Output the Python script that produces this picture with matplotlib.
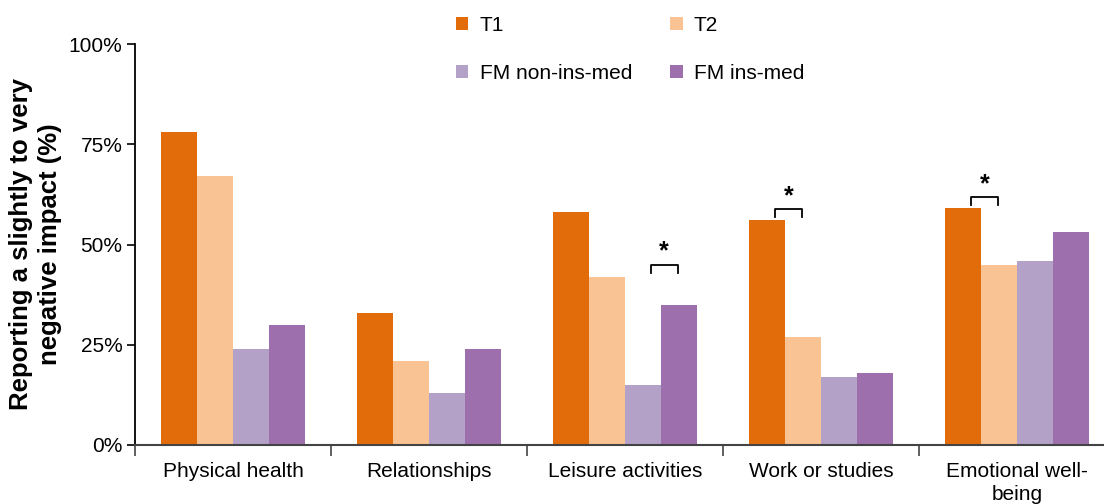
import matplotlib
matplotlib.use("Agg")
import matplotlib.pyplot as plt
import numpy as np

plt.rcParams['font.family'] = ['Liberation Sans', 'DejaVu Sans']

categories = ["Physical health", "Relationships", "Leisure activities", "Work or studies", "Emotional well-\nbeing"]
series_names = ["T1", "T2", "FM non-ins-med", "FM ins-med"]
t1 = [78, 33, 58, 56, 59]
t2 = [67, 21, 42, 27, 45]
fm_non = [24, 13, 15, 17, 46]
fm_ins = [30, 24, 35, 18, 53]
colors = ["#E36C0A", "#F9C393", "#B3A1C7", "#9D6FAD"]
yticks = [0, 25, 50, 75, 100]
ytick_labels = ["0%", "25%", "50%", "75%", "100%"]
# significance brackets: (category index, bar index a, bar index b)
sig_pairs = [(2, 2, 3), (3, 0, 1), (4, 0, 1)]

W, H = 1104, 504
fig = plt.figure(figsize=(W / 100, H / 100), dpi=100)
ax = fig.add_axes([135 / W, 1 - 445 / H, (W - 135) / W, (445 - 44) / H])

x = np.arange(len(categories))
w = 0.1825
data = [t1, t2, fm_non, fm_ins]
bars = []
for i, (vals, c, name) in enumerate(zip(data, colors, series_names)):
    b = ax.bar(x + (i - 1.5) * w, vals, width=w, color=c, label=name, linewidth=0)
    bars.append(b)

ax.set_xlim(-0.5, -0.5 + (W - 135) / 196)
ax.set_ylim(0, 100)
ax.set_yticks(yticks)
ax.set_yticklabels(ytick_labels, fontsize=15)
ax.set_xticks(np.arange(len(categories)) - 0.5)
ax.set_xticklabels([])
ax.set_xticks(x, minor=True)
ax.set_xticklabels(categories, minor=True, fontsize=15, linespacing=1.3)
ax.tick_params(axis='x', which='minor', length=0, pad=12)
ax.tick_params(axis='x', which='major', length=8, width=1.2, color='#444444', direction='out')
ax.tick_params(axis='y', length=6, width=1.2, direction='out', pad=3)
for s in ['top', 'right']:
    ax.spines[s].set_visible(False)
ax.spines['left'].set_linewidth(1.3)
ax.spines['bottom'].set_linewidth(1.5)
ax.spines['bottom'].set_color('#444444')

ax.set_ylabel("Reporting a slightly to very\nnegative impact (%)", fontsize=18.5, fontweight='bold', labelpad=5, linespacing=1.25)

# significance brackets
for ci, a, b in sig_pairs:
    xa = x[ci] + (a - 1.5) * w + 0.04
    xb = x[ci] + (b - 1.5) * w - 0.005
    top = max(data[a][ci], data[b][ci]) + 2.8
    if ci == 2:
        top = max(data[a][ci], data[b][ci]) + 9.9
    ax.plot([xa, xa, xb, xb], [top - 2, top, top, top - 2], color='black', lw=1.3, clip_on=False)
    ax.text((xa + xb) / 2, top + 0.3, "*", ha='center', va='bottom', fontsize=18, fontweight='bold')

handles = [bars[0], bars[2], bars[1], bars[3]]
labels = [series_names[0], series_names[2], series_names[1], series_names[3]]
fig.legend(handles, labels, ncol=2, loc='upper left', bbox_to_anchor=(456 / W, 1 - 16 / H),
           frameon=False, fontsize=15, handlelength=0.58, handleheight=0.58, handletextpad=0.55,
           labelspacing=1.4, columnspacing=1.85, borderpad=0, borderaxespad=0)

fig.savefig("out.png", dpi=100)
